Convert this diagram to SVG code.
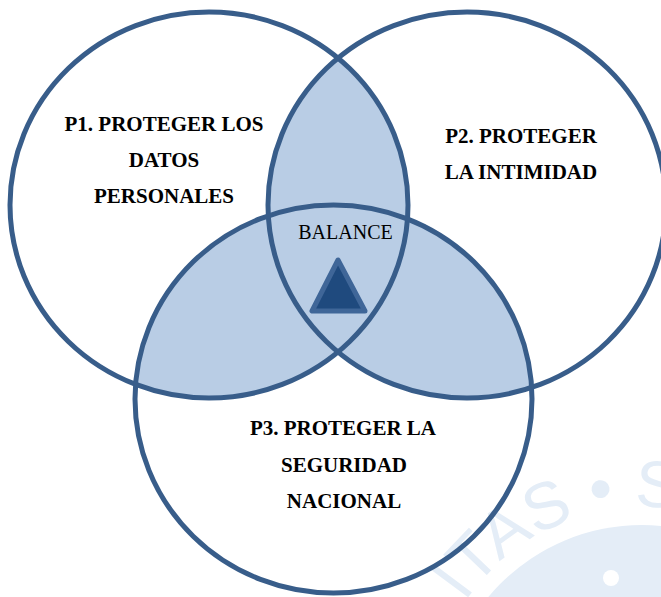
<svg xmlns="http://www.w3.org/2000/svg" width="661" height="597" viewBox="0 0 661 597">
  <style>
    .ring { fill: none; stroke: #385D8A; stroke-width: 5; }
    .lens { fill: #B9CDE5; }
    .label { font-family: "Liberation Serif", "Times New Roman", serif; font-weight: bold; font-size: 21px; fill: #000; text-anchor: middle; }
    .center-label { font-family: "Liberation Serif", "Times New Roman", serif; font-size: 20px; fill: #000; text-anchor: middle; }
    .mark { fill: #E4EDF7; }
  </style>
  <defs>
    <ellipse id="e1" cx="209" cy="205" rx="199" ry="193"/>
    <ellipse id="e2" cx="467" cy="205" rx="199" ry="193"/>
    <ellipse id="e3" cx="333.5" cy="399" rx="198.5" ry="194"/>
    <clipPath id="clip1"><use href="#e1"/></clipPath>
    <clipPath id="clip3"><use href="#e3"/></clipPath>
    <path id="sealArc" d="M 440.1 650.4 A 218 218 0 0 1 754 536.2"/>
  </defs>

  <rect width="661" height="597" fill="#FFFFFF"/>

  <!-- faint seal in the lower right corner -->
  <g id="seal">
    <circle class="mark" cx="642" cy="725" r="200"/>
    <circle cx="611" cy="578" r="8" fill="#FFFFFF"/>
    <text font-family="Liberation Sans, Arial, sans-serif" font-size="66" class="mark">
      <textPath href="#sealArc" startOffset="54">ITAS • S</textPath>
    </text>
  </g>

  <!-- overlapping areas of the three circles -->
  <g id="overlaps">
    <g clip-path="url(#clip1)"><use href="#e2" class="lens"/></g>
    <g clip-path="url(#clip3)">
      <use href="#e1" class="lens"/>
      <use href="#e2" class="lens"/>
    </g>
  </g>

  <g id="p1">
    <use href="#e1" class="ring"/>
    <text class="label" x="164" y="131">P1. PROTEGER LOS</text>
    <text class="label" x="164" y="167">DATOS</text>
    <text class="label" x="164" y="203">PERSONALES</text>
  </g>

  <g id="p2">
    <use href="#e2" class="ring"/>
    <text class="label" x="521" y="143">P2. PROTEGER</text>
    <text class="label" x="521" y="179">LA INTIMIDAD</text>
  </g>

  <g id="p3">
    <use href="#e3" class="ring"/>
    <text class="label" x="343" y="435">P3. PROTEGER LA</text>
    <text class="label" x="344" y="472">SEGURIDAD</text>
    <text class="label" x="344" y="508">NACIONAL</text>
  </g>

  <g id="balance">
    <text class="center-label" x="345.5" y="239">BALANCE</text>
    <polygon points="338,260 312,311 365,311" fill="#1F4A7E" stroke="#3F6698" stroke-width="5" stroke-linejoin="round"/>
  </g>
</svg>
